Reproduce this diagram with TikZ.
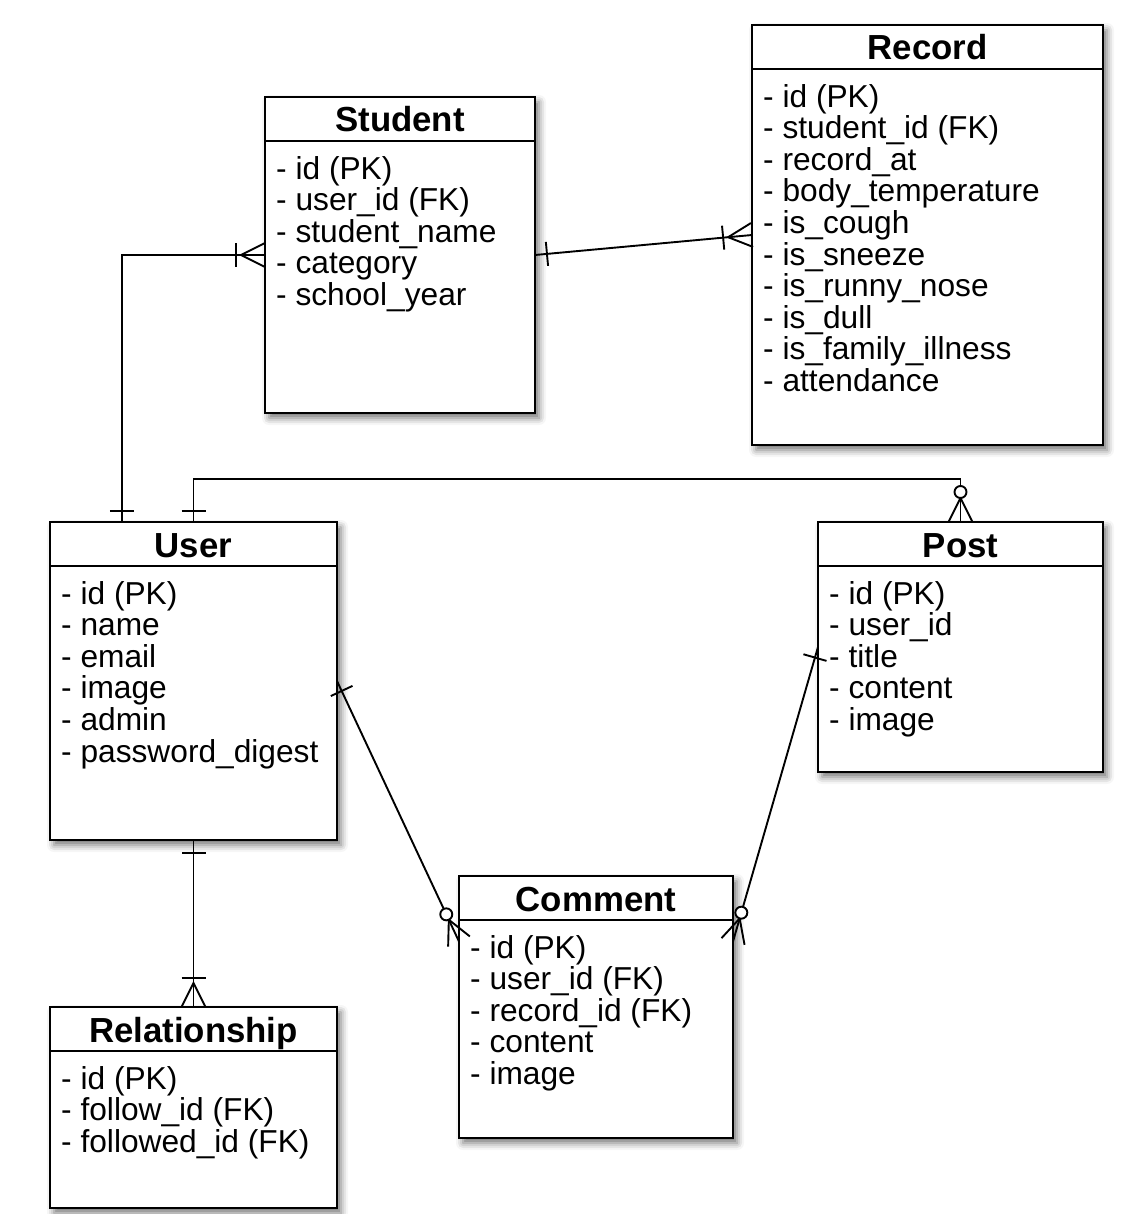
\documentclass[tikz,border=0pt]{standalone}
\usepackage{fontspec}
\setmainfont{Liberation Sans}
\usetikzlibrary{calc,shadows.blur}

\begin{document}
\begin{tikzpicture}[x=1pt, y=-1pt,
    table/.style={draw, line width=2.4pt, fill=white, anchor=north west, inner sep=0pt, outer sep=0pt,
      blur shadow={shadow xshift=4pt, shadow yshift=-5pt, shadow blur radius=7pt, shadow opacity=55}},
    title/.style={anchor=base, inner sep=0pt, font=\fontsize{34.8}{40}\selectfont\bfseries},
    attrs/.style={anchor=north west, inner sep=0pt, align=left, font=\fontsize{31.7}{31.6}\selectfont},
    head/.style={line width=2pt},
    link/.style={line width=1.9pt}]
    \useasboundingbox (0,0) rectangle (1138,1214);

    % tables
    \node[table, minimum width=270pt, minimum height=316pt] at (265, 97) (student) {};
    \node[table, minimum width=351pt, minimum height=420pt] at (752, 25) (record) {};
    \node[table, minimum width=287pt, minimum height=318pt] at (50, 522) (user) {};
    \node[table, minimum width=285pt, minimum height=250pt] at (818, 522) (post) {};
    \node[table, minimum width=274pt, minimum height=262pt] at (459, 876) (comment) {};
    \node[table, minimum width=287pt, minimum height=201pt] at (50, 1007) (rel) {};

    \draw[head] ([yshift=-44pt]student.north west) -- ([yshift=-44pt]student.north east);
    \draw[head] ([yshift=-44pt]record.north west) -- ([yshift=-44pt]record.north east);
    \draw[head] ([yshift=-44pt]user.north west) -- ([yshift=-44pt]user.north east);
    \draw[head] ([yshift=-44pt]post.north west) -- ([yshift=-44pt]post.north east);
    \draw[head] ([yshift=-44pt]comment.north west) -- ([yshift=-44pt]comment.north east);
    \draw[head] ([yshift=-44pt]rel.north west) -- ([yshift=-44pt]rel.north east);

    \node[title] at ([yshift=-35pt]student.north) (student-t) {Student};
    \node[title] at ([yshift=-35pt]record.north) (record-t) {Record};
    \node[title] at ([yshift=-35pt]user.north) (user-t) {User};
    \node[title] at ([yshift=-35pt]post.north) (post-t) {Post};
    \node[title] at ([yshift=-35pt]comment.north) (comment-t) {Comment};
    \node[title] at ([yshift=-35pt]rel.north) (rel-t) {Relationship};

    \node[attrs] at ([xshift=11pt, yshift=-59pt]student.north west) (student-a)
      {- id (PK)\\- user\_id (FK)\\- student\_name\\- category\\- school\_year};
    \node[attrs] at ([xshift=11pt, yshift=-59pt]record.north west) (record-a)
      {- id (PK)\\- student\_id (FK)\\- record\_at\\- body\_temperature\\- is\_cough\\- is\_sneeze\\- is\_runny\_nose\\- is\_dull\\- is\_family\_illness\\- attendance};
    \node[attrs] at ([xshift=11pt, yshift=-59pt]user.north west) (user-a)
      {- id (PK)\\- name\\- email\\- image\\- admin\\- password\_digest};
    \node[attrs] at ([xshift=11pt, yshift=-59pt]post.north west) (post-a)
      {- id (PK)\\- user\_id\\- title\\- content\\- image};
    \node[attrs] at ([xshift=11pt, yshift=-59pt]comment.north west) (comment-a)
      {- id (PK)\\- user\_id (FK)\\- record\_id (FK)\\- content\\- image};
    \node[attrs] at ([xshift=11pt, yshift=-59pt]rel.north west) (rel-a)
      {- id (PK)\\- follow\_id (FK)\\- followed\_id (FK)};

    % user - student
    \coordinate (u1) at ($(user.north west)!.25!(user.north east)$);
    \coordinate (k1) at (u1 |- student.west);
    \draw[link] (u1) -- (k1) -- (student.west);
    \coordinate (ub1) at ($(u1)!11pt!(k1)$);
    \draw[link] ($(ub1)!12pt!90:(k1)$) -- ($(ub1)!12pt!-90:(k1)$);
    \draw[link] ($(student.west)!12pt!90:(k1)$) -- ($(student.west)!24pt!(k1)$) -- ($(student.west)!12pt!-90:(k1)$);
    \coordinate (sb1) at ($(student.west)!29pt!(k1)$);
    \draw[link] ($(sb1)!12pt!90:(k1)$) -- ($(sb1)!12pt!-90:(k1)$);

    % student - record
    \draw[link] (student.east) -- (record.west);
    \coordinate (sb2) at ($(student.east)!12pt!(record.west)$);
    \draw[link] ($(sb2)!12pt!90:(record.west)$) -- ($(sb2)!12pt!-90:(record.west)$);
    \draw[link] ($(record.west)!12pt!90:(student.east)$) -- ($(record.west)!24pt!(student.east)$) -- ($(record.west)!12pt!-90:(student.east)$);
    \coordinate (rb1) at ($(record.west)!29pt!(student.east)$);
    \draw[link] ($(rb1)!12pt!90:(student.east)$) -- ($(rb1)!12pt!-90:(student.east)$);

    % user - post
    \coordinate (k2) at ([yshift=43pt]user.north);
    \coordinate (k3) at (k2 -| post.north);
    \draw[link] (user.north) -- (k2) -- (k3) -- (post.north);
    \coordinate (ub2) at ($(user.north)!11pt!(k2)$);
    \draw[link] ($(ub2)!12pt!90:(k2)$) -- ($(ub2)!12pt!-90:(k2)$);
    \draw[link] ($(post.north)!12pt!90:(k3)$) -- ($(post.north)!24pt!(k3)$) -- ($(post.north)!12pt!-90:(k3)$);
    \draw[link, fill=white] ($(post.north)!30pt!(k3)$) circle (6pt);

    % user - comment
    \coordinate (c1) at ($(comment.north west)!.25!(comment.south west)$);
    \draw[link] (user.east) -- (c1);
    \coordinate (ub3) at ($(user.east)!11pt!(c1)$);
    \draw[link] ($(ub3)!12pt!90:(c1)$) -- ($(ub3)!12pt!-90:(c1)$);
    \draw[link] ($(c1)!12pt!90:(user.east)$) -- ($(c1)!24pt!(user.east)$) -- ($(c1)!12pt!-90:(user.east)$);
    \draw[link, fill=white] ($(c1)!30pt!(user.east)$) circle (6pt);

    % post - comment
    \coordinate (c2) at ($(comment.north east)!.25!(comment.south east)$);
    \draw[link] (post.west) -- (c2);
    \coordinate (pb1) at ($(post.west)!11pt!(c2)$);
    \draw[link] ($(pb1)!12pt!90:(c2)$) -- ($(pb1)!12pt!-90:(c2)$);
    \draw[link] ($(c2)!12pt!90:(post.west)$) -- ($(c2)!24pt!(post.west)$) -- ($(c2)!12pt!-90:(post.west)$);
    \draw[link, fill=white] ($(c2)!30pt!(post.west)$) circle (6pt);

    % user - relationship
    \draw[link] (user.south) -- (rel.north);
    \coordinate (ub4) at ($(user.south)!13pt!(rel.north)$);
    \draw[link] ($(ub4)!12pt!90:(rel.north)$) -- ($(ub4)!12pt!-90:(rel.north)$);
    \draw[link] ($(rel.north)!12pt!90:(user.south)$) -- ($(rel.north)!24pt!(user.south)$) -- ($(rel.north)!12pt!-90:(user.south)$);
    \coordinate (lb1) at ($(rel.north)!29pt!(user.south)$);
    \draw[link] ($(lb1)!12pt!90:(user.south)$) -- ($(lb1)!12pt!-90:(user.south)$);

  \end{tikzpicture}
\end{document}
